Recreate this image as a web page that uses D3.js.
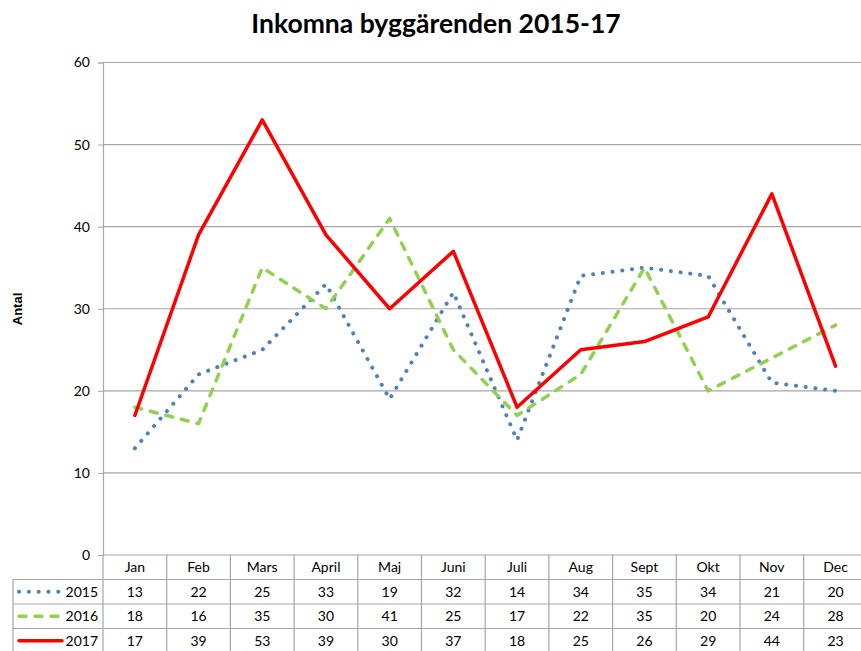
<!DOCTYPE html>
<html><head><meta charset="utf-8">
<script src="https://cdn.jsdelivr.net/npm/d3@7"></script>
<style>body{margin:0;background:#fff;}svg{display:block;font-family:Lato,"Open Sans",sans-serif;}</style>
</head><body><svg id="c" width="861" height="651"></svg>
<script>
const months = ["Jan","Feb","Mars","April","Maj","Juni","Juli","Aug","Sept","Okt","Nov","Dec"];
const v2015 = [13,22,25,33,19,32,14,34,35,34,21,20];
const v2016 = [18,16,35,30,41,25,17,22,35,20,24,28];
const v2017 = [17,39,53,39,30,37,18,25,26,29,44,23];
const yTicks = [0,10,20,30,40,50,60];
const seriesNames = ["2015","2016","2017"];
const series = [
  {name: seriesNames[0], values: v2015, color: "#4F81BD", width: 4, dash: "0.1 9.7", cap: "round"},
  {name: seriesNames[1], values: v2016, color: "#92D050", width: 3.5, dash: "7 9", cap: "round"},
  {name: seriesNames[2], values: v2017, color: "#FF0000", width: 3.5, dash: null, cap: "round"}
];

const svg = d3.select("#c");
const L = 103, T = 62.5, B = 555, bw = 63.7;
const x = d3.scaleBand().domain(months).range([L, L + bw*12]);
const y = d3.scaleLinear().domain([0,60]).range([B, T]);
const grid = "#a6a6a6";

svg.append("text").attr("x", 436).attr("y", 33).attr("text-anchor","middle")
  .attr("font-size", 26.5).attr("font-weight","bold").attr("fill","#000")
  .text("Inkomna byggärenden 2015-17");

// horizontal gridlines
svg.append("g").selectAll("line").data(yTicks).join("line")
  .attr("x1", L).attr("x2", 861).attr("y1", d=>y(d)).attr("y2", d=>y(d))
  .attr("stroke", grid).attr("stroke-width", 1.2);

// y axis
const ya = svg.append("g").attr("transform", `translate(${L},0)`)
  .call(d3.axisLeft(y).tickValues(yTicks).tickSize(5).tickPadding(8));
ya.select(".domain").attr("stroke", grid).attr("stroke-width",1.2);
ya.selectAll(".tick line").attr("stroke", grid);
ya.selectAll("text").attr("font-size", 14).attr("fill","#000")
  .attr("font-family","Lato,'Open Sans',sans-serif");

svg.append("text").attr("transform","translate(22,309) rotate(-90)")
  .attr("text-anchor","middle").attr("font-size", 13).attr("font-weight","bold")
  .attr("font-family","'Liberation Sans',Arial,sans-serif").text("Antal");

// table
const rowH = 24.5;
const tbl = svg.append("g");
const hRows = [B + rowH, B + 2*rowH, B + 3*rowH];
tbl.selectAll("line.h").data(hRows).join("line").attr("class","h")
  .attr("x1", 13).attr("x2", 861).attr("y1", d=>d).attr("y2", d=>d)
  .attr("stroke", grid).attr("stroke-width",1.2);
const bounds = months.map(m => x(m) + x.bandwidth());
tbl.selectAll("line.v").data(bounds).join("line").attr("class","v")
  .attr("x1", d=>d).attr("x2", d=>d).attr("y1", B).attr("y2", 651)
  .attr("stroke", grid).attr("stroke-width",1.2);
tbl.append("line").attr("x1", L).attr("x2", L).attr("y1", B).attr("y2", 651)
  .attr("stroke", grid).attr("stroke-width",1.2);
tbl.append("line").attr("x1", 13).attr("x2", 13).attr("y1", B+rowH).attr("y2", 651)
  .attr("stroke", grid).attr("stroke-width",1.2);
tbl.selectAll("text.m").data(months).join("text").attr("class","m")
  .attr("x", d=>x(d)+x.bandwidth()/2).attr("y", B + rowH/2 + 5)
  .attr("text-anchor","middle").attr("font-size",14).text(d=>d);

series.forEach((s,i) => {
  const cy = B + rowH*(i+1) + rowH/2;
  tbl.selectAll(null).data(s.values).join("text")
    .attr("x", (d,j)=>x(months[j])+x.bandwidth()/2).attr("y", cy+5)
    .attr("text-anchor","middle").attr("font-size",14).text(d=>d);
  tbl.append("line").attr("x1", 19).attr("x2", 62).attr("y1", cy).attr("y2", cy)
    .attr("stroke", s.color).attr("stroke-width", s.width)
    .attr("stroke-dasharray", s.dash).attr("stroke-linecap", s.cap);
  tbl.append("text").attr("x", 98).attr("y", cy+5).attr("text-anchor","end")
    .attr("font-size",14).text(s.name);
});

// lines
const line = d3.line().x((d,i)=>x(months[i])+x.bandwidth()/2).y(d=>y(d));
series.forEach(s => {
  svg.append("path").datum(s.values).attr("d", line).attr("fill","none")
    .attr("stroke", s.color).attr("stroke-width", s.width)
    .attr("stroke-dasharray", s.dash).attr("stroke-linecap", s.cap)
    .attr("stroke-linejoin","round");
});
</script></body></html>
